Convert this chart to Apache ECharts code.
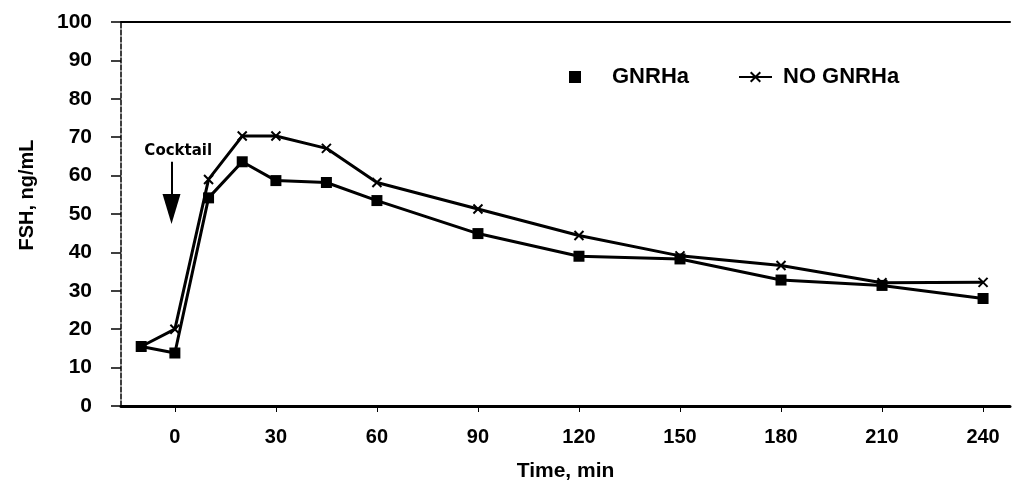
<!DOCTYPE html>
<html>
<head>
<meta charset="utf-8">
<script src="https://cdn.jsdelivr.net/npm/echarts@6/dist/echarts.min.js"></script>
<style>html,body{margin:0;padding:0;background:#fff;}#c{width:1012px;height:491px;}</style>
</head>
<body>
<div id="c"></div>
<script>
var timeMin = [-10, 0, 10, 20, 30, 45, 60, 90, 120, 150, 180, 210, 240];
var gnrha = [15.5, 13.8, 54.2, 63.6, 58.7, 58.2, 53.5, 44.9, 39.0, 38.3, 32.8, 31.4, 28.0];
var noGnrha = [15.5, 20.0, 59.0, 70.3, 70.3, 67.1, 58.2, 51.3, 44.4, 39.1, 36.6, 32.1, 32.2];
var xTicks = [0, 30, 60, 90, 120, 150, 180, 210, 240];
var seriesNames = ['GNRHa', 'NO GNRHa'];
var cocktailArrow = [[-1, 63.6], [-1, 51.3]];
var cocktailLabel = [1, 66.5];

var FONT = '"Liberation Sans", Arial, sans-serif';
function pairs(xs, ys){ return xs.map(function(x,i){ return [x, ys[i]]; }); }

var chart = echarts.init(document.getElementById('c'), null, {renderer:'canvas'});
chart.setOption({
  animation: false,
  backgroundColor: '#fff',
  grid: {left: 121, right: 2, top: 22, bottom: 85},
  legend: [
    {data: [seriesNames[0]], left: 569, top: 66, padding: 0, icon: 'rect', itemWidth: 12, itemHeight: 12,
     selectedMode: false,
     textStyle: {fontFamily: FONT, fontWeight: 'bold', fontSize: 22, color: '#000', padding: [0,0,0,26]}},
    {data: [seriesNames[1]], left: 738, top: 66, padding: 0, itemWidth: 33, itemHeight: 12,
     selectedMode: false,
     textStyle: {fontFamily: FONT, fontWeight: 'bold', fontSize: 22, color: '#000', padding: [0,0,0,6]}}
  ],
  xAxis: [{
    type: 'value', min: -16, max: 248, position: 'bottom',
    name: 'Time, min', nameLocation: 'middle', nameGap: 55,
    nameTextStyle: {fontFamily: FONT, fontWeight: 'bold', fontSize: 21, color: '#000'},
    axisLine: {show: true, onZero: false, lineStyle: {color: '#000', width: 3}},
    axisTick: {show: true, customValues: xTicks, length: 6, lineStyle: {color: '#000', width: 1}},
    axisLabel: {show: true, customValues: xTicks, margin: 21, fontFamily: FONT, fontWeight: 'bold', fontSize: 20, color: '#000'},
    splitLine: {show: false}
  }, {
    type: 'value', min: -16, max: 248, position: 'top',
    axisLine: {show: true, onZero: false, lineStyle: {color: '#000', width: 2}},
    axisTick: {show: false}, axisLabel: {show: false}, splitLine: {show: false}
  }],
  yAxis: {
    type: 'value', min: 0, max: 100, interval: 10,
    name: 'FSH, ng/mL', nameLocation: 'middle', nameGap: 84, nameRotate: 90,
    nameTextStyle: {fontFamily: FONT, fontWeight: 'bold', fontSize: 20, color: '#000', padding: [0,0,0,38]},
    axisLine: {show: true, onZero: false, lineStyle: {color: '#000', width: 1.5, type: [5,2]}},
    axisTick: {show: true, inside: false, length: 10, lineStyle: {color: '#000', width: 1.5}},
    axisLabel: {margin: 29, fontFamily: FONT, fontWeight: 'bold', fontSize: 21, color: '#000'},
    splitLine: {show: false}
  },
  series: [{
    name: seriesNames[0], type: 'line', data: pairs(timeMin, gnrha),
    symbol: 'rect', symbolSize: 11, showSymbol: true,
    lineStyle: {color: '#000', width: 3}, itemStyle: {color: '#000'},
    emphasis: {disabled: true}, z: 3,
    markLine: {
      silent: true, symbol: ['none', 'triangle'], symbolSize: [18, 30],
      label: {show: false},
      lineStyle: {color: '#000', width: 2, type: 'solid'},
      data: [[{coord: cocktailArrow[0]}, {coord: cocktailArrow[1]}]]
    },
    markPoint: {
      silent: true, symbol: 'circle', symbolSize: 1, itemStyle: {color: 'rgba(0,0,0,0)'},
      label: {show: true, position: 'inside', formatter: 'Cocktail', color: '#000',
              fontFamily: '"DejaVu Sans", sans-serif', fontWeight: 'bold', fontSize: 15},
      data: [{coord: cocktailLabel}]
    }
  }, {
    name: seriesNames[1], type: 'line', data: pairs(timeMin, noGnrha),
    symbol: 'path://M0,0L10,10M0,10L10,0', symbolSize: 9, showSymbol: true,
    lineStyle: {color: '#000', width: 3}, itemStyle: {color: '#000', borderColor: '#000', borderWidth: 2},
    emphasis: {disabled: true}, z: 2
  }]
});
</script>
</body>
</html>
